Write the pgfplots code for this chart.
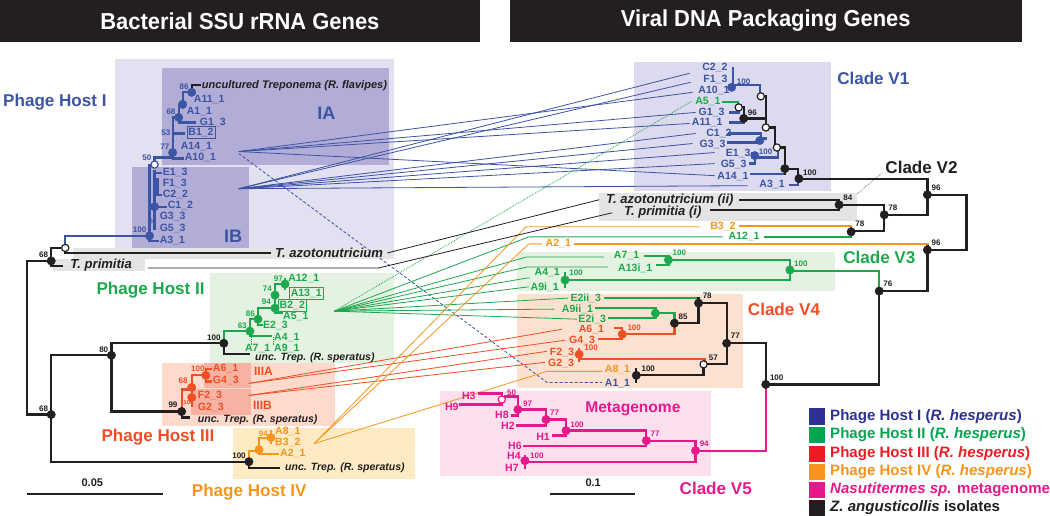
\documentclass[border=0pt]{standalone}
\usepackage{fontspec}
\setmainfont{Liberation Sans}
\usepackage{pgfplots}
\pgfplotsset{compat=1.18}
\newcommand{\fs}[1]{\fontsize{#1}{#1}\selectfont}
\definecolor{tblue}{HTML}{3C54A4}
\definecolor{tgreen}{HTML}{1EA84D}
\definecolor{tred}{HTML}{F04E23}
\definecolor{torange}{HTML}{F7941D}
\definecolor{tmag}{HTML}{E6198C}
\definecolor{tblack}{HTML}{231F20}
\definecolor{lnavy}{HTML}{2E3192}
\definecolor{lgreen}{HTML}{00A651}
\definecolor{lred}{HTML}{ED1C24}
\definecolor{bgI}{HTML}{E2E0F1}
\definecolor{bgIA}{HTML}{B1ADD7}
\definecolor{bgV1}{HTML}{DCDAEE}
\definecolor{bggray}{HTML}{E4E4E4}
\definecolor{bgII}{HTML}{E4F2E1}
\definecolor{bgIII}{HTML}{FDDACB}
\definecolor{bgIIIA}{HTML}{F8B2A3}
\definecolor{bgIV}{HTML}{FEEBC4}
\definecolor{bgV4}{HTML}{FDE1D0}
\definecolor{bgV5}{HTML}{FCE0EE}
\tikzset{
  tl/.style={line width=2.2pt, line cap=rect, line join=miter},
  cl/.style={line width=0.8pt},
  leaf/.style={font=\bfseries\fs{10.5}, inner sep=0pt},
  bs/.style={font=\bfseries\fs{8}, inner sep=0pt},
  grp/.style={font=\bfseries\fs{17}, inner sep=0pt},
}
\newcommand{\rect}[5]{\addplot[fill=#1, draw=none] coordinates {(#2,#3) (#4,#3) (#4,#5) (#2,#5)};}
\begin{document}
\begin{tikzpicture}
\begin{axis}[scale only axis, width=1050pt, height=515pt, xmin=0, xmax=1050, ymin=0, ymax=515, y dir=reverse, hide axis, clip=false]
% ---------------- backgrounds
\rect{bgI}{115}{59}{393}{247}
\rect{bgIA}{161}{68}{388}{164}
\rect{bgIA}{132}{166}{248}{247}
\rect{bggray}{73}{247}{393}{258}
\rect{bggray}{53}{258}{144}{270}
\rect{bgII}{209}{272}{393}{362}
\rect{bgIII}{161}{362}{334}{424}
\rect{bgIIIA}{203}{362}{250}{387}
\rect{bgIIIA}{190}{388}{250}{413}
\rect{bgIV}{232}{426}{413}{477}
\rect{bgV1}{632}{62}{828}{190}
\rect{bggray}{597}{192}{854}{220}
\rect{bgII}{515}{251}{832}{290}
\rect{bgV4}{515}{293}{740}{387}
\rect{bgV5}{438}{390}{708}{474}
\rect{tblack}{0}{0}{478}{42}
\rect{tblack}{508}{0}{1018}{42}
% ---------------- connectors
\addplot[tblue,cl] coordinates {(238,151) (690,92)};
\addplot[tblue,cl] coordinates {(238,151) (693,112)};
\addplot[tblue,cl] coordinates {(238,151) (687,123)};
\addplot[tblue,cl] coordinates {(238,151) (712,175)};
\addplot[tblue,cl] coordinates {(238,188) (687,73)};
\addplot[tblue,cl] coordinates {(238,188) (688,82)};
\addplot[tblue,cl] coordinates {(238,188) (693,133)};
\addplot[tblue,cl] coordinates {(238,188) (690,143)};
\addplot[tblue,cl] coordinates {(238,188) (712,152)};
\addplot[tblue,cl] coordinates {(238,188) (712,163)};
\addplot[tblue,cl] coordinates {(238,188) (745,185)};
\addplot[tblue,cl,densely dashed] coordinates {(238,153) (545,381) (600,381)};
\addplot[tgreen,cl,densely dotted] coordinates {(333,310) (689,101)};
\addplot[tgreen,cl] coordinates {(333,310) (527,236) (720,236)};
\addplot[tgreen,cl] coordinates {(333,310) (525,256) (602,256)};
\addplot[tgreen,cl] coordinates {(333,310) (525,266) (606,266)};
\addplot[tgreen,cl] coordinates {(333,310) (525,277) (528,277)};
\addplot[tgreen,cl] coordinates {(333,310) (525,286) (527,286)};
\addplot[tgreen,cl] coordinates {(333,310) (566,297)};
\addplot[tgreen,cl] coordinates {(333,310) (552,308)};
\addplot[tgreen,cl] coordinates {(333,310) (575,318)};
\addplot[tred,cl] coordinates {(248,382) (560,328)};
\addplot[tred,cl] coordinates {(248,382) (563,339)};
\addplot[tred,cl] coordinates {(248,394) (545,350)};
\addplot[tred,cl] coordinates {(248,394) (543,361)};
\addplot[torange,cl] coordinates {(313,442) (524,226) (697,226)};
\addplot[torange,cl] coordinates {(313,442) (527,243) (540,243)};
\addplot[torange,cl] coordinates {(313,442) (545,370) (600,370)};
\addplot[tblack,cl] coordinates {(386,252) (597,199)};
\addplot[tblack,cl] coordinates {(147,267) (377,267) (610,212)};
\addplot[gray,cl,densely dotted] coordinates {(878,173) (854,193)};
% ---------------- left tree
\addplot[tblack,tl] coordinates {(51,260) (27,260) (27,413) (51,413)};
\addplot[tblack,tl] coordinates {(65,247) (51,247) (51,265) (62,265)};
\addplot[tblack,tl] coordinates {(65,247) (65,252) (269,252)};
\addplot[tblack,tl] coordinates {(111,354) (51,354) (51,460) (248,460)};
\addplot[tblack,tl] coordinates {(223,342) (111,342) (111,410) (181,410)};
\addplot[tblack,tl] coordinates {(223,342) (223,353) (248,353)};
\addplot[tblack,tl] coordinates {(181,410) (181,416) (188,416)};
\addplot[tblack,tl] coordinates {(248,460) (248,466) (278,466)};
\addplot[tblack,tl] coordinates {(191,92) (191,85) (199,85)};
\addplot[tblue,tl] coordinates {(149,235) (65,235) (65,247)};
\addplot[tblue,tl] coordinates {(149,235) (149,164) (154,164)};
\addplot[tblue,tl] coordinates {(154,164) (154,157) (172,157)};
\addplot[tblue,tl] coordinates {(172,158) (182,158)};
\addplot[tblue,tl] coordinates {(172,158) (172,117) (178,117)};
\addplot[tblue,tl] coordinates {(172,133) (183,133)};
\addplot[tblue,tl] coordinates {(178,117) (178,122) (194,122)};
\addplot[tblue,tl] coordinates {(178,117) (178,104) (182,104)};
\addplot[tblue,tl] coordinates {(182,104) (182,92) (191,92)};
\addplot[tblue,tl] coordinates {(154,170) (154,228)};
\addplot[tblue,tl] coordinates {(154,172) (160,172)};
\addplot[tblue,tl] coordinates {(157,178) (157,194) (160,194)};
\addplot[tblue,tl] coordinates {(154,206) (165,206)};
\addplot[tblue,tl] coordinates {(149,235) (149,240) (157,240)};
\addplot[tgreen,tl] coordinates {(223,342) (223,330) (249,330)};
\addplot[tgreen,tl] coordinates {(249,330) (249,335) (270,335)};
\addplot[tgreen,tl] coordinates {(249,330) (249,318) (257,318)};
\addplot[tgreen,tl] coordinates {(257,318) (257,324) (261,324)};
\addplot[tgreen,tl] coordinates {(257,318) (257,307) (274,307)};
\addplot[tgreen,tl] coordinates {(274,294) (274,312) (281,312)};
\addplot[tgreen,tl] coordinates {(274,294) (274,283) (284,283)};
\addplot[tgreen,tl] coordinates {(284,278) (284,288)};
\addplot[tgreen,cl,densely dotted] coordinates {(250,336) (250,344)};
\addplot[tgreen,cl,densely dotted] coordinates {(272,336) (272,344)};
\addplot[tred,tl] coordinates {(181,410) (181,388) (191,388)};
\addplot[tred,tl] coordinates {(191,404) (191,374) (205,374)};
\addplot[tred,tl] coordinates {(210,368) (205,368) (205,380) (210,380)};
\addplot[torange,tl] coordinates {(248,460) (248,449) (258,449)};
\addplot[torange,tl] coordinates {(258,452) (258,436) (270,436)};
\addplot[torange,tl] coordinates {(258,452) (277,452)};
\addplot[torange,tl] coordinates {(270,430) (270,441)};
% ---------------- right tree
\addplot[tblue,tl] coordinates {(730,68) (730,87)};
\addplot[tblue,tl] coordinates {(730,85) (757,85) (757,92)};
\addplot[tblue,tl] coordinates {(727,112) (736,112)};
\addplot[tblue,tl] coordinates {(727,122) (741,122) (741,118)};
\addplot[tblue,tl] coordinates {(726,133) (758,133) (758,142) (725,142)};
\addplot[tblue,tl] coordinates {(758,138) (763,138)};
\addplot[tblue,tl] coordinates {(749,153) (752,153) (752,163) (747,163)};
\addplot[tblue,tl] coordinates {(752,157) (775,157) (775,150)};
\addplot[tblue,tl] coordinates {(748,173) (782,173)};
\addplot[tblue,tl] coordinates {(787,184) (795,184) (795,179)};
\addplot[tgreen,tl] coordinates {(720,102) (735,102) (735,104)};
\addplot[tblack,tl] coordinates {(758,96) (763,96) (763,127)};
\addplot[tblack,tl] coordinates {(736,107) (741,107) (741,118) (763,118)};
\addplot[tblack,tl] coordinates {(763,127) (772,127) (772,144)};
\addplot[tblack,tl] coordinates {(774,147) (782,147) (782,173)};
\addplot[tblack,tl] coordinates {(782,168) (795,168) (795,179)};
\addplot[tblack,tl] coordinates {(796,178) (924,178) (924,214) (881,214)};
\addplot[tblack,tl] coordinates {(924,194) (963,194) (963,249) (924,249)};
\addplot[tblack,tl] coordinates {(924,243) (924,290) (876,290)};
\addplot[tblack,tl] coordinates {(876,290) (876,383) (763,383)};
\addplot[tblack,tl] coordinates {(836,204) (881,204) (881,230) (848,230)};
\addplot[tblack,tl] coordinates {(737,199) (836,199) (836,209) (708,209)};
\addplot[tblack,tl] coordinates {(848,225) (848,236)};
\addplot[torange,tl] coordinates {(737,225) (848,225)};
\addplot[tgreen,tl] coordinates {(762,236) (848,236)};
\addplot[torange,tl] coordinates {(573,243) (924,243)};
\addplot[tgreen,tl] coordinates {(643,255) (666,255) (666,264) (655,264)};
\addplot[tgreen,tl] coordinates {(666,259) (787,259) (787,279) (563,279)};
\addplot[tgreen,tl] coordinates {(787,270) (876,270) (876,290)};
\addplot[tgreen,tl] coordinates {(563,272) (563,286)};
\addplot[tgreen,tl] coordinates {(603,297) (696,297)};
\addplot[tblack,tl] coordinates {(696,297) (696,322) (672,322)};
\addplot[tblack,tl] coordinates {(696,302) (724,302) (724,363) (705,363)};
\addplot[tblack,tl] coordinates {(724,342) (763,342) (763,383)};
\addplot[tgreen,tl] coordinates {(594,307) (653,307) (653,317) (607,317)};
\addplot[tgreen,tl] coordinates {(653,312) (672,312) (672,322)};
\addplot[tred,tl] coordinates {(613,327) (620,327) (620,338) (597,338)};
\addplot[tred,tl] coordinates {(620,333) (672,333) (672,322)};
\addplot[tred,tl] coordinates {(577,348) (577,360)};
\addplot[tred,tl] coordinates {(577,358) (702,358) (702,360)};
\addplot[tblack,tl] coordinates {(701,366) (701,374) (634,374)};
\addplot[tblack,tl] coordinates {(634,368) (634,380)};
\addplot[tmag,tl] coordinates {(477,392) (500,392) (500,403) (458,403)};
\addplot[tmag,tl] coordinates {(503,395) (516,395) (516,414) (510,414)};
\addplot[tmag,tl] coordinates {(516,408) (544,408) (544,424) (515,424)};
\addplot[tmag,tl] coordinates {(544,418) (564,418) (564,434) (551,434)};
\addplot[tmag,tl] coordinates {(564,429) (644,429) (644,444) (522,444)};
\addplot[tmag,tl] coordinates {(644,439) (693,439) (693,460) (523,460)};
\addplot[tmag,tl] coordinates {(523,454) (523,466)};
\addplot[tmag,tl] coordinates {(693,449) (763,449) (763,383)};
% scale bars
\addplot[tblack,line width=1.6pt] coordinates {(27,492) (162,492)};
\addplot[tblack,line width=1.6pt] coordinates {(548,492) (633,492)};
% ---------------- node markers
\addplot[only marks, mark=*, mark size=4.2pt, mark options={fill=tblack, draw=tblack}] coordinates {(51,260) (51,413) (111,354) (223,342) (181,410) (248,460) (741,118) (782,168) (796,178) (924,194) (924,249) (881,214) (836,204) (848,231) (876,290) (696,302) (672,322) (724,342) (634,374) (763,383)};
\addplot[only marks, mark=*, mark size=3.6pt, mark options={fill=white, draw=tblack, line width=1.2pt}] coordinates {(65,247) (758,96) (763,127) (774,147) (736,107) (701,363)};
\addplot[only marks, mark=*, mark size=4.2pt, mark options={fill=tblue, draw=tblue}] coordinates {(149,235) (154,206) (172,152) (178,117) (182,104) (191,92) (729,87) (757,140) (752,155)};
\addplot[only marks, mark=*, mark size=3.6pt, mark options={fill=white, draw=tblue, line width=1.2pt}] coordinates {(154,164)};
\addplot[only marks, mark=*, mark size=4.2pt, mark options={fill=tgreen, draw=tgreen}] coordinates {(249,330) (257,318) (274,307) (274,294) (284,283) (666,259) (787,269) (563,279) (653,312)};
\addplot[only marks, mark=*, mark size=4.2pt, mark options={fill=tred, draw=tred}] coordinates {(191,386) (205,374) (191,396) (620,333) (577,353)};
\addplot[only marks, mark=*, mark size=4.2pt, mark options={fill=torange, draw=torange}] coordinates {(258,448) (270,436)};
\addplot[only marks, mark=*, mark size=4.2pt, mark options={fill=tmag, draw=tmag}] coordinates {(516,408) (544,418) (564,429) (644,439) (693,449) (523,459)};
\addplot[only marks, mark=*, mark size=3.6pt, mark options={fill=white, draw=tmag, line width=1.2pt}] coordinates {(500,398)};
% legend squares
\rect{lnavy}{806}{407}{822}{423}
\rect{lgreen}{806}{425}{822}{441}
\rect{lred}{806}{444}{822}{460}
\rect{torange}{806}{462}{822}{478}
\rect{tmag}{806}{480}{822}{496}
\rect{tblack}{806}{498}{822}{514}
% ---------------- texts
\node[font=\bfseries\fs{23}, text=white] at (axis cs:239,21) {\scalebox{0.95}[1]{Bacterial SSU rRNA Genes}};
\node[font=\bfseries\fs{23}, text=white] at (axis cs:763,21) {\scalebox{0.95}[1]{Viral DNA Packaging Genes}};
% group labels
\node[grp, anchor=west, text=tblue] at (axis cs:3,102) {Phage Host I};
\node[grp, anchor=west, text=tblue, font=\bfseries\fs{18}] at (axis cs:316,113) {IA};
\node[grp, anchor=west, text=tblue, font=\bfseries\fs{18}] at (axis cs:223,235) {IB};
\node[grp, anchor=west, text=tgreen] at (axis cs:96,289) {Phage Host II};
\node[grp, anchor=west, text=tred] at (axis cs:101,436) {Phage Host III};
\node[grp, anchor=west, text=torange] at (axis cs:191,490) {Phage Host IV};
\node[grp, anchor=west, text=tblue] at (axis cs:834,78) {Clade V1};
\node[grp, anchor=west, text=tblack] at (axis cs:882,167) {Clade V2};
\node[grp, anchor=west, text=tgreen] at (axis cs:840,256) {Clade V3};
\node[grp, anchor=west, text=tred] at (axis cs:745,308) {Clade V4};
\node[grp, anchor=west, text=tmag, font=\bfseries\fs{15.5}] at (axis cs:583,407) {Metagenome};
\node[grp, anchor=west, text=tmag] at (axis cs:677,487) {Clade V5};
\node[leaf, anchor=west, text=tred, font=\bfseries\fs{12}] at (axis cs:253,370) {IIIA};
\node[leaf, anchor=west, text=tred, font=\bfseries\fs{12}] at (axis cs:252,404) {IIIB};
\node[font=\bfseries\fs{11}, text=tblack] at (axis cs:92,481) {0.05};
\node[font=\bfseries\fs{11}, text=tblack] at (axis cs:591,481) {0.1};
% left leaves
\node[leaf, anchor=west, text=tblack, font=\bfseries\itshape\fs{11}] at (axis cs:201,85) {uncultured Treponema (R. flavipes)};
\node[leaf, anchor=west, text=tblue] at (axis cs:193,99) {A11\_1};
\node[leaf, anchor=west, text=tblue] at (axis cs:186,111) {A1\_1};
\node[leaf, anchor=west, text=tblue] at (axis cs:199,122) {G1\_3};
\node[leaf, anchor=west, text=tblue, draw=tblue, line width=0.4pt, inner sep=1.5pt] at (axis cs:186,132) {B1\_2};
\node[leaf, anchor=west, text=tblue] at (axis cs:180,146) {A14\_1};
\node[leaf, anchor=west, text=tblue] at (axis cs:184,157) {A10\_1};
\node[leaf, anchor=west, text=tblue] at (axis cs:162,172) {E1\_3};
\node[leaf, anchor=west, text=tblue] at (axis cs:162,183) {F1\_3};
\node[leaf, anchor=west, text=tblue] at (axis cs:162,194) {C2\_2};
\node[leaf, anchor=west, text=tblue] at (axis cs:167,205) {C1\_2};
\node[leaf, anchor=west, text=tblue] at (axis cs:159,216) {G3\_3};
\node[leaf, anchor=west, text=tblue] at (axis cs:159,228) {G5\_3};
\node[leaf, anchor=west, text=tblue] at (axis cs:159,240) {A3\_1};
\node[leaf, anchor=west, text=tblack, font=\bfseries\itshape\fs{13}] at (axis cs:274,252) {T. azotonutricium};
\node[leaf, anchor=west, text=tblack, font=\bfseries\itshape\fs{13}] at (axis cs:70,264) {T. primitia};
\node[leaf, anchor=west, text=tgreen] at (axis cs:287,277) {A12\_1};
\node[leaf, anchor=west, text=tgreen, draw=tgreen, line width=0.4pt, inner sep=1.5pt] at (axis cs:288,292) {A13\_1};
\node[leaf, anchor=west, text=tgreen, draw=tgreen, line width=0.4pt, inner sep=1.5pt] at (axis cs:277,304) {B2\_2};
\node[leaf, anchor=west, text=tgreen] at (axis cs:282,315) {A5\_1};
\node[leaf, anchor=west, text=tgreen] at (axis cs:262,324) {E2\_3};
\node[leaf, anchor=west, text=tgreen] at (axis cs:273,336) {A4\_1};
\node[leaf, anchor=west, text=tgreen] at (axis cs:244,347) {A7\_1};
\node[leaf, anchor=west, text=tgreen] at (axis cs:273,347) {A9\_1};
\node[leaf, anchor=west, text=tblack, font=\bfseries\itshape\fs{10.5}] at (axis cs:254,356) {unc. Trep. (R. speratus)};
\node[leaf, anchor=west, text=tred] at (axis cs:212,367) {A6\_1};
\node[leaf, anchor=west, text=tred] at (axis cs:212,379) {G4\_3};
\node[leaf, anchor=west, text=tred] at (axis cs:197,394) {F2\_3};
\node[leaf, anchor=west, text=tred] at (axis cs:197,406) {G2\_3};
\node[leaf, anchor=west, text=tblack, font=\bfseries\itshape\fs{10.5}] at (axis cs:197,418) {unc. Trep. (R. speratus)};
\node[leaf, anchor=west, text=torange] at (axis cs:274,430) {A8\_1};
\node[leaf, anchor=west, text=torange] at (axis cs:274,441) {B3\_2};
\node[leaf, anchor=west, text=torange] at (axis cs:279,452) {A2\_1};
\node[leaf, anchor=west, text=tblack, font=\bfseries\itshape\fs{10.5}] at (axis cs:284,466) {unc. Trep. (R. speratus)};
% right leaves
\node[leaf, anchor=east, text=tblue] at (axis cs:725,67) {C2\_2};
\node[leaf, anchor=east, text=tblue] at (axis cs:725,79) {F1\_3};
\node[leaf, anchor=east, text=tblue] at (axis cs:727,90) {A10\_1};
\node[leaf, anchor=east, text=tgreen] at (axis cs:718,101) {A5\_1};
\node[leaf, anchor=east, text=tblue] at (axis cs:722,112) {G1\_3};
\node[leaf, anchor=east, text=tblue] at (axis cs:720,122) {A11\_1};
\node[leaf, anchor=east, text=tblue] at (axis cs:729,133) {C1\_2};
\node[leaf, anchor=east, text=tblue] at (axis cs:723,144) {G3\_3};
\node[leaf, anchor=east, text=tblue] at (axis cs:748,153) {E1\_3};
\node[leaf, anchor=east, text=tblue] at (axis cs:744,164) {G5\_3};
\node[leaf, anchor=east, text=tblue] at (axis cs:746,176) {A14\_1};
\node[leaf, anchor=east, text=tblue] at (axis cs:782,184) {A3\_1};
\node[leaf, anchor=east, text=tblack, font=\bfseries\itshape\fs{13}] at (axis cs:731,199) {T. azotonutricium (ii)};
\node[leaf, anchor=east, text=tblack, font=\bfseries\itshape\fs{13}] at (axis cs:699,211) {T. primitia (i)};
\node[leaf, anchor=east, text=torange] at (axis cs:733,226) {B3\_2};
\node[leaf, anchor=east, text=tgreen] at (axis cs:757,236) {A12\_1};
\node[leaf, anchor=east, text=torange] at (axis cs:569,243) {A2\_1};
\node[leaf, anchor=east, text=tgreen] at (axis cs:637,255) {A7\_1};
\node[leaf, anchor=east, text=tgreen] at (axis cs:650,267) {A13i\_1};
\node[leaf, anchor=east, text=tgreen] at (axis cs:558,272) {A4\_1};
\node[leaf, anchor=east, text=tgreen] at (axis cs:557,286) {A9i\_1};
\node[leaf, anchor=east, text=tgreen] at (axis cs:599,297) {E2ii\_3};
\node[leaf, anchor=east, text=tgreen] at (axis cs:591,308) {A9ii\_1};
\node[leaf, anchor=east, text=tgreen] at (axis cs:604,318) {E2i\_3};
\node[leaf, anchor=east, text=tred] at (axis cs:602,328) {A6\_1};
\node[leaf, anchor=east, text=tred] at (axis cs:593,339) {G4\_3};
\node[leaf, anchor=east, text=tred] at (axis cs:572,351) {F2\_3};
\node[leaf, anchor=east, text=tred] at (axis cs:572,362) {G2\_3};
\node[leaf, anchor=east, text=torange] at (axis cs:628,368) {A8\_1};
\node[leaf, anchor=east, text=tblue] at (axis cs:628,382) {A1\_1};
\node[leaf, anchor=east, text=tmag] at (axis cs:474,394) {H3};
\node[leaf, anchor=east, text=tmag] at (axis cs:457,405) {H9};
\node[leaf, anchor=east, text=tmag] at (axis cs:507,413) {H8};
\node[leaf, anchor=east, text=tmag] at (axis cs:513,424) {H2};
\node[leaf, anchor=east, text=tmag] at (axis cs:548,435) {H1};
\node[leaf, anchor=east, text=tmag] at (axis cs:520,444) {H6};
\node[leaf, anchor=east, text=tmag] at (axis cs:519,454) {H4};
\node[leaf, anchor=east, text=tmag] at (axis cs:517,466) {H7};
% bootstrap values, left
\node[bs, anchor=east, text=tblue] at (axis cs:188,86) {86};
\node[bs, anchor=east, text=tblue] at (axis cs:175,111) {68};
\node[bs, anchor=east, text=tblue] at (axis cs:170,132) {53};
\node[bs, anchor=east, text=tblue] at (axis cs:169,146) {77};
\node[bs, anchor=east, text=tblue] at (axis cs:151,157) {50};
\node[bs, anchor=east, text=tblue, font=\bfseries\fs{6}] at (axis cs:156,221) {63};
\node[bs, anchor=east, text=tblue] at (axis cs:146,229) {100};
\node[bs, anchor=east, text=tblack] at (axis cs:48,254) {68};
\node[bs, anchor=east, text=tblack] at (axis cs:48,407) {68};
\node[bs, anchor=east, text=tblack] at (axis cs:108,348) {80};
\node[bs, anchor=east, text=tblack] at (axis cs:220,336) {100};
\node[bs, anchor=east, text=tblack] at (axis cs:177,403) {99};
\node[bs, anchor=east, text=tblack] at (axis cs:245,454) {100};
\node[bs, anchor=east, text=tgreen] at (axis cs:282,278) {97};
\node[bs, anchor=east, text=tgreen] at (axis cs:271,288) {74};
\node[bs, anchor=east, text=tgreen] at (axis cs:270,301) {94};
\node[bs, anchor=east, text=tgreen] at (axis cs:254,313) {86};
\node[bs, anchor=east, text=tgreen] at (axis cs:246,325) {63};
\node[bs, anchor=east, text=tred] at (axis cs:204,367) {100};
\node[bs, anchor=east, text=tred] at (axis cs:187,379) {68};
\node[bs, anchor=east, text=tred, font=\bfseries\fs{6}] at (axis cs:193,401) {100};
\node[bs, anchor=east, text=torange] at (axis cs:267,432) {94};
% bootstrap values, right
\node[bs, anchor=west, text=tblue] at (axis cs:734,81) {100};
\node[bs, anchor=west, text=tblack] at (axis cs:745,112) {96};
\node[bs, anchor=west, text=tblue] at (axis cs:756,151) {100};
\node[bs, anchor=west, text=tblack] at (axis cs:800,172) {100};
\node[bs, anchor=west, text=tblack] at (axis cs:928,187) {96};
\node[bs, anchor=west, text=tblack] at (axis cs:840,197) {84};
\node[bs, anchor=west, text=tblack] at (axis cs:885,207) {78};
\node[bs, anchor=west, text=tblack] at (axis cs:852,223) {78};
\node[bs, anchor=west, text=tblack] at (axis cs:928,242) {96};
\node[bs, anchor=west, text=tblack] at (axis cs:880,283) {76};
\node[bs, anchor=west, text=tgreen] at (axis cs:670,252) {100};
\node[bs, anchor=west, text=tgreen] at (axis cs:791,263) {100};
\node[bs, anchor=west, text=tgreen] at (axis cs:567,272) {100};
\node[bs, anchor=west, text=tblack] at (axis cs:700,295) {78};
\node[bs, anchor=west, text=tblack] at (axis cs:676,316) {85};
\node[bs, anchor=west, text=tblack] at (axis cs:728,335) {77};
\node[bs, anchor=west, text=tred] at (axis cs:625,327) {100};
\node[bs, anchor=west, text=tred] at (axis cs:582,346) {100};
\node[bs, anchor=west, text=tblack] at (axis cs:706,356) {57};
\node[bs, anchor=west, text=tblack] at (axis cs:639,367) {100};
\node[bs, anchor=west, text=tblack] at (axis cs:767,376) {100};
\node[bs, anchor=west, text=tmag] at (axis cs:505,391) {50};
\node[bs, anchor=west, text=tmag] at (axis cs:521,402) {97};
\node[bs, anchor=west, text=tmag] at (axis cs:548,411) {77};
\node[bs, anchor=west, text=tmag] at (axis cs:568,423) {100};
\node[bs, anchor=west, text=tmag] at (axis cs:648,432) {77};
\node[bs, anchor=west, text=tmag] at (axis cs:697,442) {94};
\node[bs, anchor=west, text=tmag] at (axis cs:528,454) {100};
% legend text
\node[anchor=west, inner sep=0pt, font=\bfseries\fs{15}, text=lnavy] at (axis cs:827,415) {Phage Host I (\textit{R. hesperus})};
\node[anchor=west, inner sep=0pt, font=\bfseries\fs{15}, text=lgreen] at (axis cs:827,433) {Phage Host II (\textit{R. hesperus})};
\node[anchor=west, inner sep=0pt, font=\bfseries\fs{15}, text=lred] at (axis cs:827,452) {Phage Host III (\textit{R. hesperus})};
\node[anchor=west, inner sep=0pt, font=\bfseries\fs{15}, text=torange] at (axis cs:827,470) {Phage Host IV (\textit{R. hesperus})};
\node[anchor=west, inner sep=0pt, font=\bfseries\fs{15}, text=tmag] at (axis cs:827,488) {\textit{Nasutitermes sp.} metagenome};
\node[anchor=west, inner sep=0pt, font=\bfseries\fs{15}, text=tblack] at (axis cs:827,506) {\textit{Z. angusticollis} isolates};
\end{axis}
\end{tikzpicture}
\end{document}
